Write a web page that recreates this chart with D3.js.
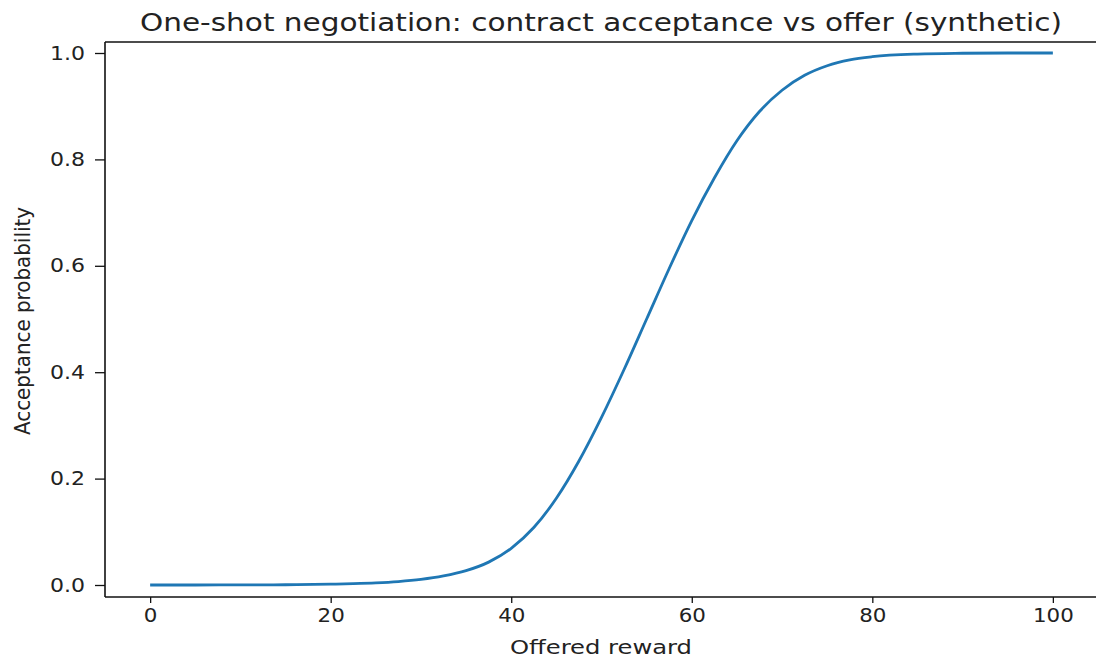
<!DOCTYPE html>
<html>
<head>
<meta charset="utf-8">
<script src="https://cdn.jsdelivr.net/npm/d3@7"></script>
<style>
  html, body { margin: 0; padding: 0; background: #fff; }
  svg { display: block; }
  text { font-family: "DejaVu Sans", sans-serif; fill: #222; }
</style>
</head>
<body>
<svg id="chart" width="1096" height="659"></svg>
<script>
// ---- data ----
const offers = [0, 5, 10, 15, 20, 22.5, 25, 27.5, 30, 32.5, 35, 37.5, 40, 42.5, 45, 47.5, 50, 52.5, 55, 57.5, 60, 62.5, 65, 67.5, 70, 72.5, 75, 77.5, 80, 85, 90, 95, 100];
const acceptance = [0, 0, 0.0002, 0.0005, 0.0015, 0.0025, 0.004, 0.0065, 0.0105, 0.017, 0.027, 0.043, 0.069, 0.108, 0.163, 0.233, 0.315, 0.405, 0.50, 0.595, 0.685, 0.765, 0.835, 0.89, 0.93, 0.958, 0.976, 0.987, 0.993, 0.998, 0.9995, 1, 1];
const xTicks = [0, 20, 40, 60, 80, 100];
const yTicks = [0.0, 0.2, 0.4, 0.6, 0.8, 1.0];
const titleText = "One-shot negotiation: contract acceptance vs offer (synthetic)";
const xLabel = "Offered reward";
const yLabel = "Acceptance probability";

const svg = d3.select("#chart");
const axL = 105, axR = 1098, axT = 42, axB = 597;

const x = d3.scaleLinear().domain([-5, 105]).range([axL, axR]);
const y = d3.scaleLinear().domain([0, 1]).range([585, 53]);

// line
const line = d3.line().x((d, i) => x(offers[i])).y(d => y(d)).curve(d3.curveMonotoneX);
svg.append("path")
  .datum(acceptance)
  .attr("d", line)
  .attr("fill", "none")
  .attr("stroke", "#1f77b4")
  .attr("stroke-width", 2.8);

// spines
const sp = svg.append("g").attr("stroke", "#111").attr("stroke-width", 1.6).attr("fill", "none");
sp.append("line").attr("x1", axL).attr("x2", axL).attr("y1", axT).attr("y2", axB);
sp.append("line").attr("x1", axL).attr("x2", axR).attr("y1", axB).attr("y2", axB);
sp.append("line").attr("x1", axL).attr("x2", axR).attr("y1", axT).attr("y2", axT);
sp.append("line").attr("x1", axR).attr("x2", axR).attr("y1", axT).attr("y2", axB);

// x axis
const xAxis = d3.axisBottom(x).tickValues(xTicks).tickFormat(d3.format("d")).tickSize(6).tickPadding(6);
const gx = svg.append("g").attr("transform", `translate(0,${axB})`).call(xAxis);
gx.select(".domain").remove();
gx.selectAll(".tick line").attr("stroke", "#111").attr("stroke-width", 1.3);
gx.selectAll(".tick text").attr("font-size", 19).attr("fill", "#222")
  .attr("font-family", "DejaVu Sans").attr("dy", "0.71em")
  .each(function() {
    const t = d3.select(this);
    t.attr("textLength", t.text().length * 13.6).attr("lengthAdjust", "spacingAndGlyphs");
  });

// y axis
const yAxis = d3.axisLeft(y).tickValues(yTicks).tickFormat(d3.format(".1f")).tickSize(10).tickPadding(10);
const gy = svg.append("g").attr("transform", `translate(${axL},0)`).call(yAxis);
gy.select(".domain").remove();
gy.selectAll(".tick line").attr("stroke", "#111").attr("stroke-width", 1.3);
gy.selectAll(".tick text").attr("font-size", 19).attr("fill", "#222")
  .attr("font-family", "DejaVu Sans")
  .attr("textLength", 35).attr("lengthAdjust", "spacingAndGlyphs");

// title
svg.append("text")
  .attr("x", 601).attr("y", 31)
  .attr("text-anchor", "middle")
  .attr("font-size", 24)
  .attr("textLength", 922).attr("lengthAdjust", "spacingAndGlyphs")
  .text(titleText);

// x label
svg.append("text")
  .attr("x", 601).attr("y", 654)
  .attr("text-anchor", "middle")
  .attr("font-size", 20)
  .attr("textLength", 182).attr("lengthAdjust", "spacingAndGlyphs")
  .text(xLabel);

// y label
svg.append("text")
  .attr("transform", "translate(30,321) rotate(-90)")
  .attr("text-anchor", "middle")
  .attr("font-size", 22)
  .attr("textLength", 228).attr("lengthAdjust", "spacingAndGlyphs")
  .text(yLabel);
</script>
</body>
</html>
